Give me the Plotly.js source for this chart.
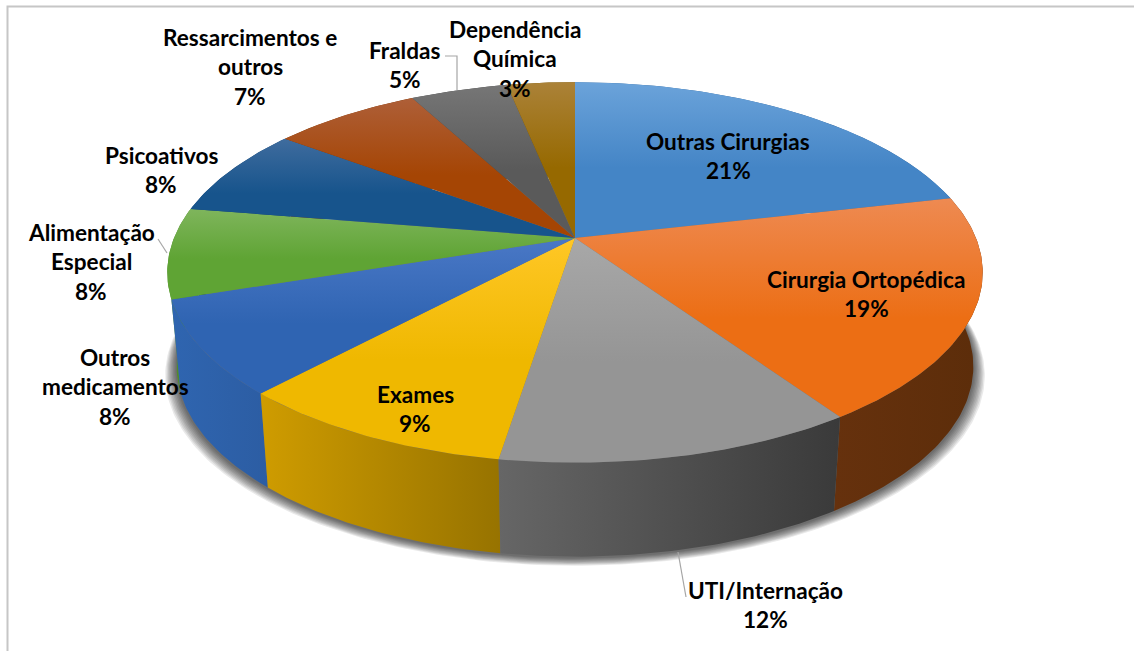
<!DOCTYPE html>
<html>
<head>
<meta charset="utf-8">
<script src="https://cdn.plot.ly/plotly-3.0.1.min.js"></script>
<style>html,body{margin:0;padding:0;background:#fff}#chart{width:1134px;height:651px}</style>
</head>
<body>
<div id="chart"></div>
<script>
// ---- data ----
var categories = ["Outras Cirurgias","Cirurgia Ortopédica","UTI/Internação","Exames","Outros medicamentos","Alimentação Especial","Psicoativos","Ressarcimentos e outros","Fraldas","Dependência Química"];
var shares = [21.4,19.1,12.0,9.4,8.0,7.7,7.6,7.0,4.6,3.2];

// ---- style ----
var topLight = ["#6ba3da","#ee8a52","#a8a8a8","#ffc726","#4a78c6","#7fb55c","#3f6c9e","#ae5f38","#767676","#ab8238"];
var topDark  = ["#4485c6","#ec6e14","#959595","#efb800","#2f64b2","#5fa434","#17548c","#a54504","#5a5a5a","#966900"];
var wallLeft  = ["#2b6299","#66310d","#666666","#cf9c00","#2f65b0","#4f8a2c","#123f6a","#7c3403","#444444","#715000"];
var wallRight = ["#2b6299","#5c2d0a","#3a3a3a","#977300","#2c5da3","#4f8a2c","#123f6a","#7c3403","#444444","#715000"];
var labelLines = [["Outras Cirurgias"],["Cirurgia Ortopédica"],["UTI/Internação"],["Exames"],["Outros","medicamentos"],["Alimentação","Especial"],["Psicoativos"],["Ressarcimentos e","outros"],["Fraldas"],["Dependência","Química"]];
var labelX = [728,866,765,415,115,91,161,250,405,515];
var labelY = [141,279,590,394,357,232,155,37,50,29];
var linePitch = 29.5;
var labelFont = {family:"Lato, Carlito, sans-serif", size:22.6, color:"#000000", weight:700};

// ---- pie geometry (perspective projection of a circle) ----
var cx=575, cy=238, a=401, b=184, k=0.181, depth=94, baseScale=0.977;
function topPt(t){
  var th=2*Math.PI*t, s=Math.sin(th), c=Math.cos(th), w=1+k*c;
  return [cx+a*s/w, cy-b*c/w];
}
function basePt(t){
  var p=topPt(t);
  return [cx+(p[0]-cx)*baseScale, p[1]+depth];
}
function arc(fn,t0,t1){
  var n=Math.max(2,Math.ceil((t1-t0)*400)), out=[];
  for(var i=0;i<=n;i++) out.push(fn(t0+(t1-t0)*i/n));
  return out;
}
function xs(p){return p.map(function(q){return q[0];});}
function ys(p){return p.map(function(q){return q[1];});}
function poly(pts,extra){
  var tr={type:"scatter",mode:"lines",x:xs(pts),y:ys(pts),fill:"toself",line:{width:0},hoverinfo:"skip",showlegend:false};
  for(var key in extra) tr[key]=extra[key];
  return tr;
}

var total=shares.reduce(function(m,v){return m+v;},0), edges=[0];
shares.forEach(function(v,i){edges.push(edges[i]+v/total);});

var traces=[];
// soft shadow beneath the pie
for(var i=9;i>=1;i--){
  var ring=arc(function(t){
    var p=basePt(t);
    return [cx+(p[0]-cx)*(1+i*0.0032), p[1]+1+i*0.9];
  },0,1);
  traces.push(poly(ring,{fillcolor:"rgba(0,0,0,0.085)"}));
}
// side walls, back to front
var order=shares.map(function(v,i){return i;}).sort(function(p,q){
  return topPt((edges[p]+edges[p+1])/2)[1]-topPt((edges[q]+edges[q+1])/2)[1];
});
order.forEach(function(i){
  var pts=arc(topPt,edges[i],edges[i+1]).concat(arc(basePt,edges[i],edges[i+1]).reverse());
  pts.push(pts[0]);
  var tL=topPt(edges[i])[0]<topPt(edges[i+1])[0];
  traces.push(poly(pts,{fillcolor:wallLeft[i],name:categories[i]+" (lateral)",
    fillgradient:{type:"horizontal",colorscale:tL?[[0,wallRight[i]],[1,wallLeft[i]]]:[[0,wallLeft[i]],[1,wallRight[i]]]}}));
});
// top faces
shares.forEach(function(v,i){
  var pts=[[cx,cy]].concat(arc(topPt,edges[i],edges[i+1]));
  pts.push([cx,cy]);
  traces.push(poly(pts,{fillcolor:topDark[i],name:categories[i],
    fillgradient:{type:"vertical",colorscale:[[0,topDark[i]],[0.45,topDark[i]],[1,topLight[i]]]}}));
});

// ---- labels ----
var annotations=[];
categories.forEach(function(c,i){
  var lines=labelLines[i].concat([Math.round(shares[i])+"%"]);
  lines.forEach(function(txt,j){
    annotations.push({x:labelX[i],y:labelY[i]+j*linePitch,xref:"x",yref:"y",text:txt,showarrow:false,
      xanchor:"center",yanchor:"middle",font:labelFont});
  });
});

var layout={
  width:1134,height:651,margin:{l:0,r:0,t:0,b:0},
  paper_bgcolor:"#ffffff",plot_bgcolor:"#ffffff",showlegend:false,
  xaxis:{range:[0,1134],visible:false,fixedrange:true},
  yaxis:{range:[651,0],visible:false,fixedrange:true},
  annotations:annotations,
  shapes:[
    {type:"path",xref:"x",yref:"y",path:"M7.5,651 L7.5,6.5 L1134,6.5",line:{color:"#c6c6c6",width:2}},
    {type:"path",xref:"x",yref:"y",path:"M445,56 L457,56 L457,90",line:{color:"#a6a6a6",width:1.2}},
    {type:"path",xref:"x",yref:"y",path:"M158,239 L167,253",line:{color:"#a6a6a6",width:1.2}},
    {type:"path",xref:"x",yref:"y",path:"M678,552 L686,597",line:{color:"#a6a6a6",width:1.2}}
  ]
};
Plotly.newPlot("chart",traces,layout,{displayModeBar:false,staticPlot:true});
</script>
</body>
</html>
